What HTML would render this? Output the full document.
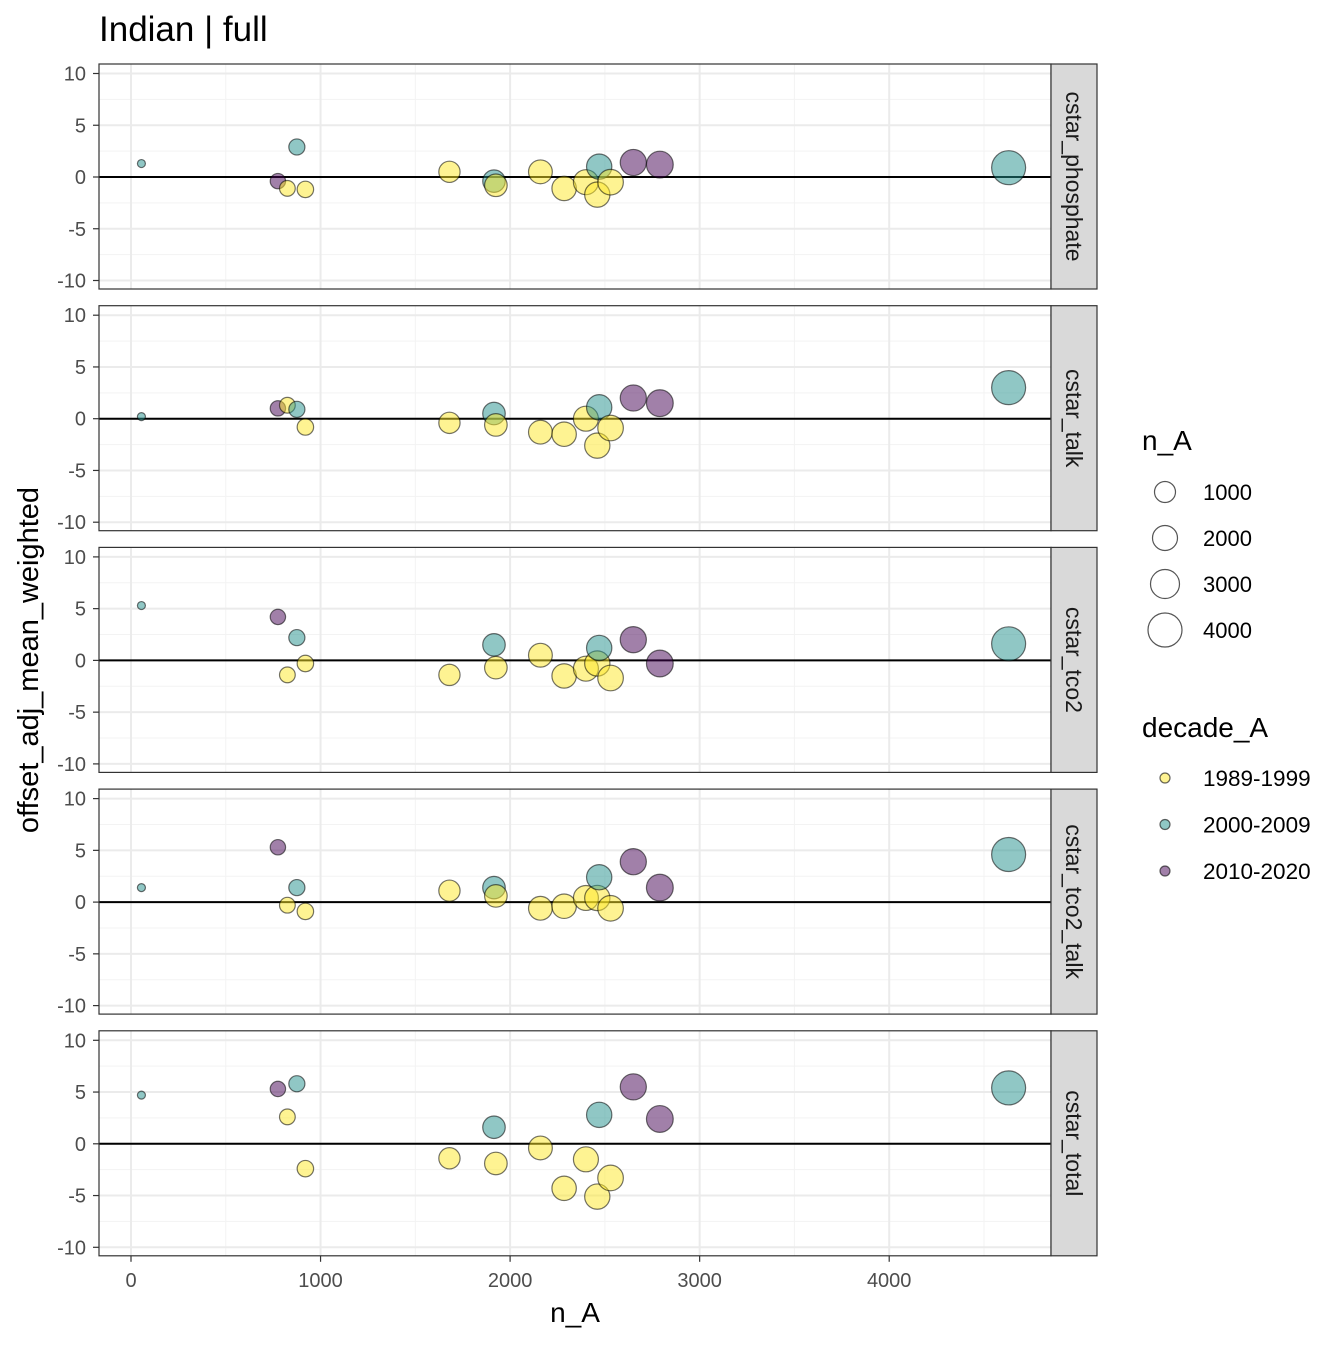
<!DOCTYPE html>
<html><head><meta charset="utf-8"><style>
body{margin:0;background:#fff}
svg{font-family:"Liberation Sans",Arial,sans-serif}
</style></head><body>
<svg id="chart" width="1344" height="1344" viewBox="0 0 1344 1344" xmlns="http://www.w3.org/2000/svg">
<rect width="1344" height="1344" fill="#fff"/>
<text x="99" y="41" font-size="35" fill="#000">Indian | full</text>
<g id="panels"></g>
<text x="575" y="1322" font-size="28" text-anchor="middle">n_A</text>
<text transform="translate(38,660) rotate(-90)" font-size="29" text-anchor="middle">offset_adj_mean_weighted</text>
<g>
<text x="1142" y="450" font-size="28">n_A</text>
</g>
<g>
<text x="1142" y="737" font-size="28">decade_A</text>
</g>
<g id="legend"></g>
</svg>
<script>
const NS="http://www.w3.org/2000/svg";
const panelNames=["cstar_phosphate","cstar_talk","cstar_tco2","cstar_tco2_talk","cstar_total"];
const nA=[55,775,825,875,920,1680,1915,1925,2160,2285,2400,2460,2470,2530,2650,2790,4630];
const decade=["2000-2009","2010-2020","1989-1999","2000-2009","1989-1999","1989-1999","2000-2009","1989-1999","1989-1999","1989-1999","1989-1999","1989-1999","2000-2009","1989-1999","2010-2020","2010-2020","2000-2009"];
const valsPhosphate=[1.3,-0.4,-1.1,2.9,-1.2,0.5,-0.4,-0.8,0.5,-1.1,-0.5,-1.7,1.0,-0.5,1.4,1.2,0.9];
const valsTalk=[0.2,1.0,1.3,0.9,-0.8,-0.4,0.5,-0.6,-1.3,-1.5,0,-2.6,1.1,-0.9,2.0,1.5,3.0];
const valsTco2=[5.3,4.2,-1.4,2.2,-0.3,-1.4,1.5,-0.7,0.5,-1.5,-0.8,-0.3,1.2,-1.7,2.0,-0.3,1.6];
const valsTco2Talk=[1.4,5.3,-0.3,1.4,-0.9,1.1,1.4,0.6,-0.6,-0.4,0.4,0.4,2.4,-0.6,3.9,1.4,4.6];
const valsTotal=[4.7,5.3,2.6,5.8,-2.4,-1.4,1.6,-1.9,-0.4,-4.3,-1.5,-5.1,2.8,-3.3,5.5,2.4,5.4];
const xTicks=[0,1000,2000,3000,4000];
const yTicks=[-10,-5,0,5,10];
const decades=["1989-1999","2000-2009","2010-2020"];
const sizeBreaks=[1000,2000,3000,4000];
const series=[valsPhosphate,valsTalk,valsTco2,valsTco2Talk,valsTotal];
const colors={"1989-1999":"#FDE725","2000-2009":"#21908C","2010-2020":"#440154"};
const X0=99,X1=1051;
const xs=v=>131+v*0.18955;
const panelTop=i=>64+i*241.7;
const PH=225;
const ys=(i,v)=>panelTop(i)+113-v*10.35;
const rad=n=>Math.sqrt(16+0.0597*(n-55));
function el(t,a,p){const e=document.createElementNS(NS,t);for(const k in a)e.setAttribute(k,a[k]);p.appendChild(e);return e;}
const G=document.getElementById("panels");
panelNames.forEach((name,i)=>{
 const top=panelTop(i);
 const g=el("g",{},G);
 
 
 el("rect",{x:X0,y:top,width:X1-X0,height:PH,fill:"#fff"},g);
 for(let k=0;k<xTicks.length;k++){const m=xTicks[k]+500;const x=xs(m);if(x<X1)el("line",{x1:x,x2:x,y1:top,y2:top+PH,stroke:"#f3f3f3","stroke-width":1},g);}
 for(let k=0;k<yTicks.length-1;k++){const y=ys(i,yTicks[k]+2.5);el("line",{x1:X0,x2:X1,y1:y,y2:y,stroke:"#f3f3f3","stroke-width":1},g);}
 xTicks.forEach(t=>{const x=xs(t);el("line",{x1:x,x2:x,y1:top,y2:top+PH,stroke:"#ebebeb","stroke-width":2},g);});
 yTicks.forEach(t=>{const y=ys(i,t);el("line",{x1:X0,x2:X1,y1:y,y2:y,stroke:"#ebebeb","stroke-width":2},g);
  el("line",{x1:93,x2:99,y1:y,y2:y,stroke:"#333","stroke-width":1.2},g);
  const tx=el("text",{x:86,y:y+7,"font-size":20,"text-anchor":"end",fill:"#4d4d4d"},g);tx.textContent=String(t);
  
  
 });
 const z=ys(i,0);
 el("line",{x1:X0,x2:X1,y1:z,y2:z,stroke:"#000","stroke-width":2},g);
 const vals=series[i];
 nA.forEach((n,j)=>{
  const c=el("circle",{cx:xs(n),cy:ys(i,vals[j]),r:rad(n),fill:colors[decade[j]],"fill-opacity":0.5,stroke:"#000","stroke-opacity":0.55,"stroke-width":1.2},g);
  
  
 });
 el("rect",{x:X0,y:top,width:X1-X0,height:PH,fill:"none",stroke:"#333","stroke-width":1.2},g);
 const s=el("rect",{x:X1,y:top,width:46,height:PH,fill:"#d9d9d9",stroke:"#333","stroke-width":1.2},g);
 
 
 const st=el("text",{transform:`translate(${X1+15},${top+PH/2}) rotate(90)`,"font-size":23,"text-anchor":"middle",fill:"#1a1a1a"},g);
 st.textContent=name;
 
 
 if(i===4){xTicks.forEach(t=>{const x=xs(t);el("line",{x1:x,x2:x,y1:top+PH,y2:top+PH+6,stroke:"#333","stroke-width":1.2},g);
  const tx=el("text",{x:x,y:top+PH+31,"font-size":20,"text-anchor":"middle",fill:"#4d4d4d"},g);tx.textContent=String(t);
  
  });}
});
const L=document.getElementById("legend");
const sizeR=[10.5,12.5,14.5,17];
sizeBreaks.forEach((b,k)=>{const y=492+k*46;
 const c=el("circle",{cx:1165,cy:y,r:sizeR[k],fill:"none",stroke:"#555","stroke-width":1.2},L);
 
 
 const t=el("text",{x:1203,y:y+8,"font-size":22},L);t.textContent=String(b);
 
 
});
decades.forEach((d,k)=>{const y=778+k*46.5;
 const c=el("circle",{cx:1165,cy:y,r:5,fill:colors[d],"fill-opacity":0.5,stroke:"#000","stroke-opacity":0.6,"stroke-width":1.2},L);
 
 
 const t=el("text",{x:1203,y:y+8,"font-size":22.5},L);t.textContent=d;
 
 
});
</script>
</body></html>
